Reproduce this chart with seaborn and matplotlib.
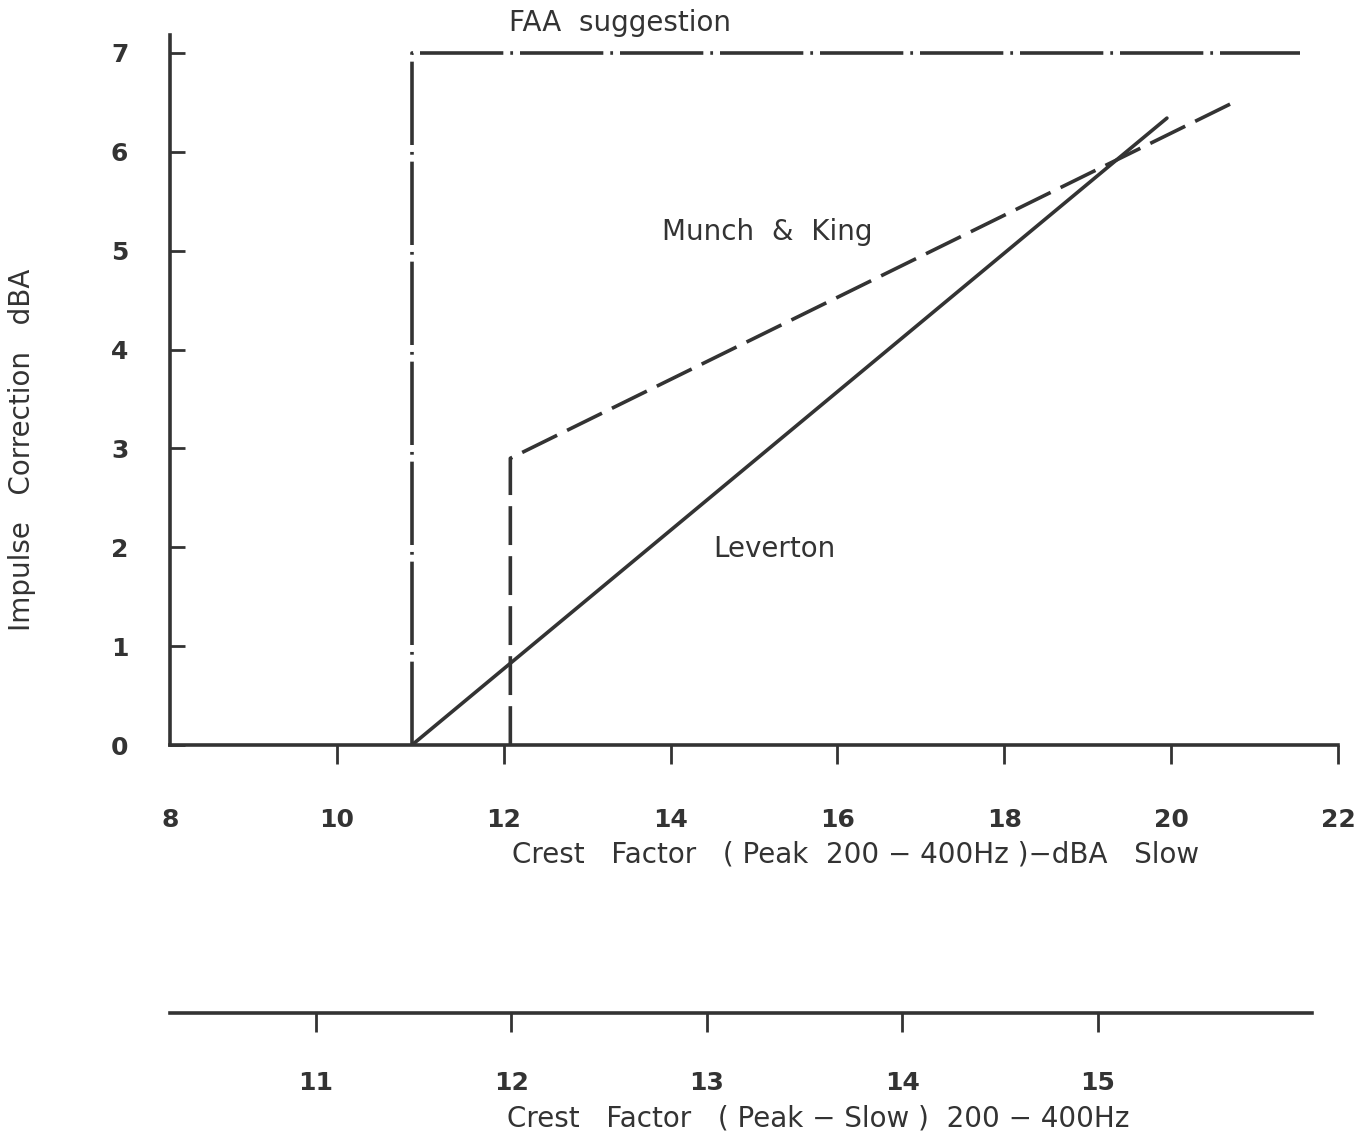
import matplotlib
matplotlib.use("Agg")
import matplotlib.pyplot as plt
import seaborn as sns
import pandas as pd

# values
faa_x = [10.9, 10.9, 21.55]
faa_y = [0, 7, 7]
mk_x = [12.08, 12.08, 20.8]
mk_y = [0, 2.9, 6.52]
lev_x = [10.9, 19.95]
lev_y = [0, 6.34]

main_ticks = [8, 10, 12, 14, 16, 18, 20, 22]
y_ticks = [0, 1, 2, 3, 4, 5, 6, 7]
lower_ticks = [11, 12, 13, 14, 15]

ink = "#333333"

sns.set_style("white")
plt.rcParams["font.family"] = ["DejaVu Sans"]
plt.rcParams["lines.scale_dashes"] = False

fig = plt.figure(figsize=(13.64, 11.38), dpi=100)
ax = fig.add_axes([0.1246, 0.3453, 0.8563, 0.6239])

faa = pd.DataFrame({"x": faa_x, "y": faa_y})
mk = pd.DataFrame({"x": mk_x, "y": mk_y})
lev = pd.DataFrame({"x": lev_x, "y": lev_y})

sns.lineplot(data=faa, x="x", y="y", sort=False, estimator=None, ax=ax,
             color=ink, lw=2.6, linestyle=(0, (60, 5, 2, 5)))
sns.lineplot(data=mk, x="x", y="y", sort=False, estimator=None, ax=ax,
             color=ink, lw=2.6, linestyle=(0, (28, 8)))
sns.lineplot(data=lev, x="x", y="y", sort=False, estimator=None, ax=ax,
             color=ink, lw=2.6)

ax.text(13.39, 7.3, "FAA  suggestion", fontsize=20, color=ink, ha="center", va="center")
ax.text(15.16, 5.19, "Munch  &  King", fontsize=20, color=ink, ha="center", va="center")
ax.text(15.25, 1.98, "Leverton", fontsize=20, color=ink, ha="center", va="center")

ax.set_xlim(8, 22)
ax.set_ylim(0, 7.18)
ax.set_xticks(main_ticks)
ax.set_yticks(y_ticks)
ax.set_xticklabels([str(t) for t in main_ticks], fontsize=18, fontweight="bold", color=ink)
ax.set_yticklabels([str(t) for t in y_ticks], fontsize=18, fontweight="bold", color=ink)
ax.tick_params(axis="x", bottom=True, direction="out", length=14, width=2, color=ink, pad=31)
ax.tick_params(axis="y", left=True, direction="in", length=11, width=2, color=ink, pad=30)
# the scan shows no tick mark under the 8 label
ax.xaxis.get_major_ticks()[0].tick1line.set_visible(False)
for side in ["top", "right"]:
    ax.spines[side].set_visible(False)
for side in ["left", "bottom"]:
    ax.spines[side].set_color(ink)
    ax.spines[side].set_linewidth(2.6)
ax.set_xlabel("")
ax.set_ylabel("")

fig.text(22 / 1364, 1 - 450 / 1138, "Impulse   Correction   dBA", rotation=90,
         fontsize=20, color=ink, ha="center", va="center")
fig.text(856 / 1364, 1 - 855 / 1138, "Crest   Factor   ( Peak  200 − 400Hz )−dBA   Slow",
         fontsize=20, color=ink, ha="center", va="center")

# second scale below the chart
ax2 = fig.add_axes([0.1246, 1 - 1013 / 1138, (1312 - 170) / 1364, 0.001])
ax2.set_xlim(10.253, 16.095)
ax2.set_ylim(0, 1)
ax2.set_xticks(lower_ticks)
ax2.set_xticklabels([str(t) for t in lower_ticks], fontsize=18, fontweight="bold", color=ink)
ax2.set_yticks([])
ax2.tick_params(axis="x", bottom=True, direction="out", length=14, width=2, color=ink, pad=28)
for side in ["top", "right", "left"]:
    ax2.spines[side].set_visible(False)
ax2.spines["bottom"].set_color(ink)
ax2.spines["bottom"].set_linewidth(2.6)
ax2.patch.set_alpha(0)

fig.text(818 / 1364, 1 - 1118 / 1138, "Crest   Factor   ( Peak − Slow )  200 − 400Hz",
         fontsize=20, color=ink, ha="center", va="center")

fig.savefig("out.png", dpi=100)
